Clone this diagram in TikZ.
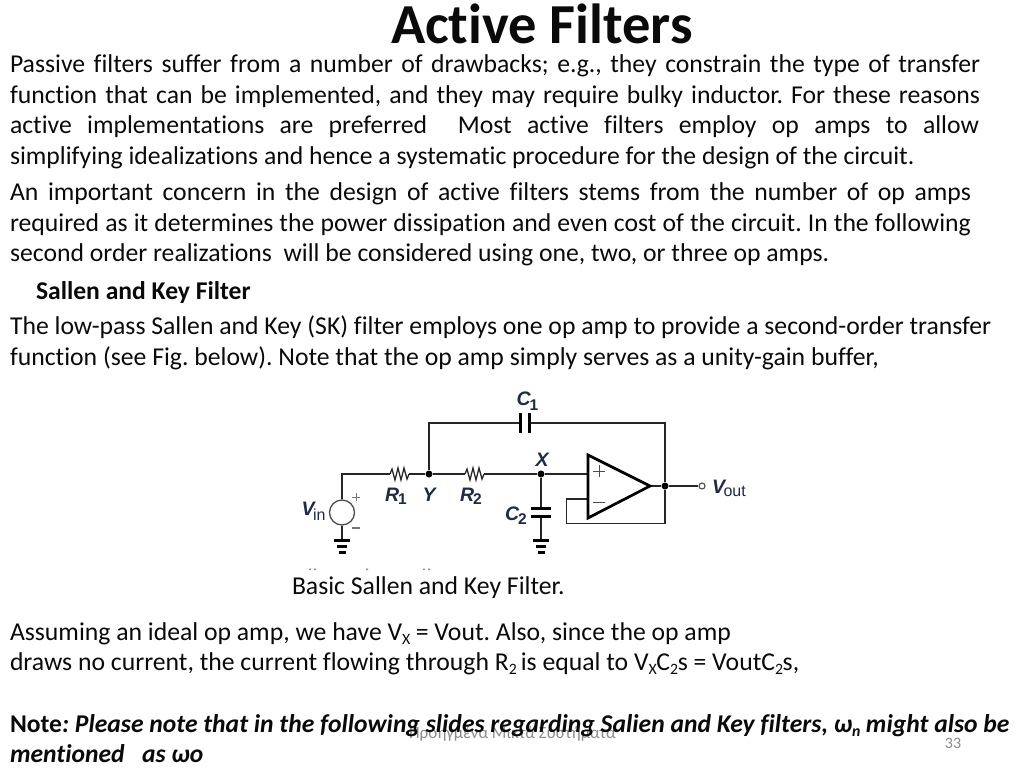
\documentclass[tikz,border=0pt]{standalone}
\usepackage{fontspec}
\setmainfont[Ligatures=NoCommon]{Carlito}
\newfontfamily\arialf{Liberation Sans}
\definecolor{bodyc}{HTML}{0A0A0A}
\definecolor{labc}{HTML}{1F2A44}
\definecolor{footc}{HTML}{8A8A8A}
\newcommand{\fs}[1]{\fontsize{#1}{#1}\selectfont}
\newcommand{\jl}[2]{\makebox[#1pt][s]{#2}}
\newcommand{\sbs}[1]{\raisebox{-4.5pt}{\fontsize{15.8}{15.8}\selectfont #1}\kern-.4pt\relax}
\newcommand{\lb}[3]{#1\kern-1pt\relax\raisebox{-#3pt}{\fontsize{15.5}{15.5}\selectfont\upshape #2}}
\newcommand{\lv}[3]{#1\kern-1.5pt\relax\raisebox{-#3pt}{\fontsize{16}{16}\selectfont\upshape\mdseries #2}}
\frenchspacing
\tikzset{
  txt/.style={anchor=base west,inner sep=0pt,outer sep=0pt,text=bodyc,font=\fs{25.7}},
  lab/.style={inner sep=0pt,outer sep=0pt,text=labc,font=\arialf\bfseries\itshape\fs{19.5}},
  wire/.style={line width=1.3pt,draw=black!85,line join=miter},
  plate/.style={line width=3pt,draw=black},
  dot/.style={circle,fill=black,inner sep=0pt,minimum size=7pt},
  speck/.style={fill=black!45},
}
\begin{document}
\begin{tikzpicture}[x=1pt,y=-1pt]
\useasboundingbox (0,0) rectangle (1024,768);
% footer, beneath the note text
\node[anchor=base,inner sep=0pt,text=footc,font=\fs{17}] (foot) at (512.5,738) {Προηγμένα Μικτά Συστήματα};
\node[anchor=base,inner sep=0pt,text=footc,font=\fs{16}] (page) at (953,748) {33};
% title
\node[anchor=base,inner sep=0pt,text=bodyc,font=\bfseries\fs{56.5}] (title) at (542,44) {Active Filters};
% paragraph 1
\node[txt] (p1a) at (10,72) {\jl{970}{Passive filters suffer from a number of drawbacks; e.g., they constrain the type of transfer}};
\node[txt] (p1b) at (10,103) {\jl{970}{function that can be implemented, and they may require bulky inductor. For these reasons}};
\node[txt] (p1c) at (10,133) {\jl{969}{active implementations are preferred\ \ Most active filters employ op amps to allow}};
\node[txt] (p1d) at (10,164) {simplifying idealizations and hence a systematic procedure for the design of the circuit.};
% paragraph 2
\node[txt] (p2a) at (10,200) {\jl{961}{An important concern in the design of active filters stems from the number of op amps}};
\node[txt] (p2b) at (10,231) {\jl{961}{required as it determines the power dissipation and even cost of the circuit. In the following}};
\node[txt] (p2c) at (10,261) {second order realizations\ \ will be considered using one, two, or three op amps.};
\node[txt,font=\bfseries\fs{25.6}] (head) at (36,299) {Sallen and Key Filter};
\node[txt] (p3a) at (10,334) {The low-pass Sallen and Key (SK) filter employs one op amp to provide a second-order transfer};
\node[txt] (p3b) at (10,365) {function (see Fig. below). Note that the op amp simply serves as a unity-gain buffer,};
% caption
\fill[speck] (309,568.5) rectangle (311,570) (314,568.5) rectangle (316,570) (366,568.5) rectangle (368,570) (423,568.5) rectangle (425,570) (428,568.5) rectangle (430,570);
\node[txt] (cap) at (292,594) {Basic Sallen and Key Filter.};
% lower
\node[txt] (p4a) at (10,640) {Assuming an ideal op amp, we have V\sbs{X} = Vout. Also, since the op amp};
\node[txt] (p4b) at (10,670) {draws no current, the current flowing through R\sbs{2}\kern-1.5pt\relax{} is equal to V\sbs{X}C\sbs{2}s = VoutC\sbs{2}s,};
\node[txt,font=\bfseries\fs{25.6}] (n1) at (10,732) {Note\textit{: Please note that in the following slides regarding Salien and Key filters, ω\sbs{n} might also be}};
\node[txt,font=\bfseries\itshape\fs{25.6}] (n2) at (10,762) {mentioned\ \ \ as ωo};
% circuit
\coordinate (src) at (342,512.5);
\coordinate (cnr) at (342,474);
\coordinate (r1a) at (390,474);
\coordinate (r1b) at (409,474);
\node[dot] (y) at (429,474) {};
\coordinate (r2a) at (465,474);
\coordinate (r2b) at (484,474);
\node[dot] (x) at (541,474) {};
\coordinate (ytop) at (429,423);
\coordinate (c1a) at (520.5,423);
\coordinate (c1b) at (529,423);
\coordinate (ftr) at (665,423);
\node[dot] (o) at (665,486) {};
\node[draw=black!70,line width=1.1pt,circle,inner sep=0pt,minimum size=6pt,fill=white] (vo) at (702,486) {};
\coordinate (oin) at (588,474);
\coordinate (omn) at (588,499);
\coordinate (otip) at (650,486);
\coordinate (otop) at (588,455);
\coordinate (obot) at (588,518);
\coordinate (fbl) at (566.5,499);
\coordinate (fbb) at (566.5,523.5);
\coordinate (fbr) at (665,523.5);
\coordinate (c2a) at (541,508);
\coordinate (c2b) at (541,516.5);
\coordinate (gx) at (541,540.5);
\coordinate (gs) at (342,540.5);
\node[draw=black!70,line width=1.3pt,circle,inner sep=0pt,minimum size=25pt,fill=white] (vs) at (src) {};
% wires
\draw[wire] (vs.north) -- (cnr) -- (r1a);
\draw[wire] (r1a) -- ++(2,-5) -- ++(3,11) -- ++(3,-12) -- ++(3,12) -- ++(3,-12) -- ++(3,11) -- (r1b);
\draw[wire] (r1b) -- (y) -- (r2a);
\draw[wire] (r2a) -- ++(2,-5) -- ++(3,11) -- ++(3,-12) -- ++(3,12) -- ++(3,-12) -- ++(3,11) -- (r2b);
\draw[wire] (r2b) -- (x) -- (oin);
\draw[wire] (y) -- (ytop) -- (c1a);
\draw[wire] (c1b) -- (ftr) -- (o) -- (fbr) -- (fbb) -- (fbl) -- (omn);
\draw[wire] (otip) -- (o) -- (vo);
\draw[wire] (x) -- (c2a);
\draw[wire] (c2b) -- (gx);
\draw[wire] (vs.south) -- (gs);
% capacitor plates
\draw[plate] ([yshift=10pt]c1a) -- ([yshift=-10pt]c1a);
\draw[plate] ([yshift=10pt]c1b) -- ([yshift=-10pt]c1b);
\draw[plate] ([xshift=-10pt]c2a) -- ([xshift=10pt]c2a);
\draw[plate] ([xshift=-10pt]c2b) -- ([xshift=10pt]c2b);
% grounds
\foreach \g in {gx,gs}{
  \draw[line width=3pt] ([xshift=-8pt]\g) -- ([xshift=8pt]\g);
  \draw[line width=2.6pt] ([xshift=-5pt,yshift=-6pt]\g) -- ([xshift=5pt,yshift=-6pt]\g);
  \draw[line width=3pt] ([xshift=-3.5pt,yshift=-11.5pt]\g) -- ([xshift=3.5pt,yshift=-11.5pt]\g);
}
% op amp
\draw[line width=2.7pt,line join=miter,fill=white] (otop) -- (otip) -- (obot) -- cycle;
\draw[line width=1pt,draw=black!70] (593,471) -- (605,471) (599,465) -- (599,477);
\draw[line width=1pt,draw=black!70] (593,502) -- (605,502);
% source polarity
\draw[line width=1pt,draw=black!55] (352,497) -- (360,497) (356,493) -- (356,501);
\draw[line width=1.2pt,draw=black!55] (352,528) -- (360,528);
% labels
\node[lab,anchor=base west] (lc1) at (516.5,405) {\lb{C}{1}{5}};
\node[lab,anchor=base west] (lc2) at (505,520) {\lb{C}{2}{4}};
\node[lab,anchor=base] (lx) at (542,466) {X};
\node[lab,anchor=base] (ly) at (429,501) {Y};
\node[lab,anchor=base west] (lr1) at (385,501) {\lb{R}{1}{3.5}};
\node[lab,anchor=base west] (lr2) at (460,501) {\lb{R}{2}{3.5}};
\node[lab,anchor=base west] (lvin) at (301.5,515) {\lv{V}{in}{5}};
\node[lab,anchor=base west] (lvout) at (712,493) {\lv{V}{out}{3.5}};
\end{tikzpicture}
\end{document}
